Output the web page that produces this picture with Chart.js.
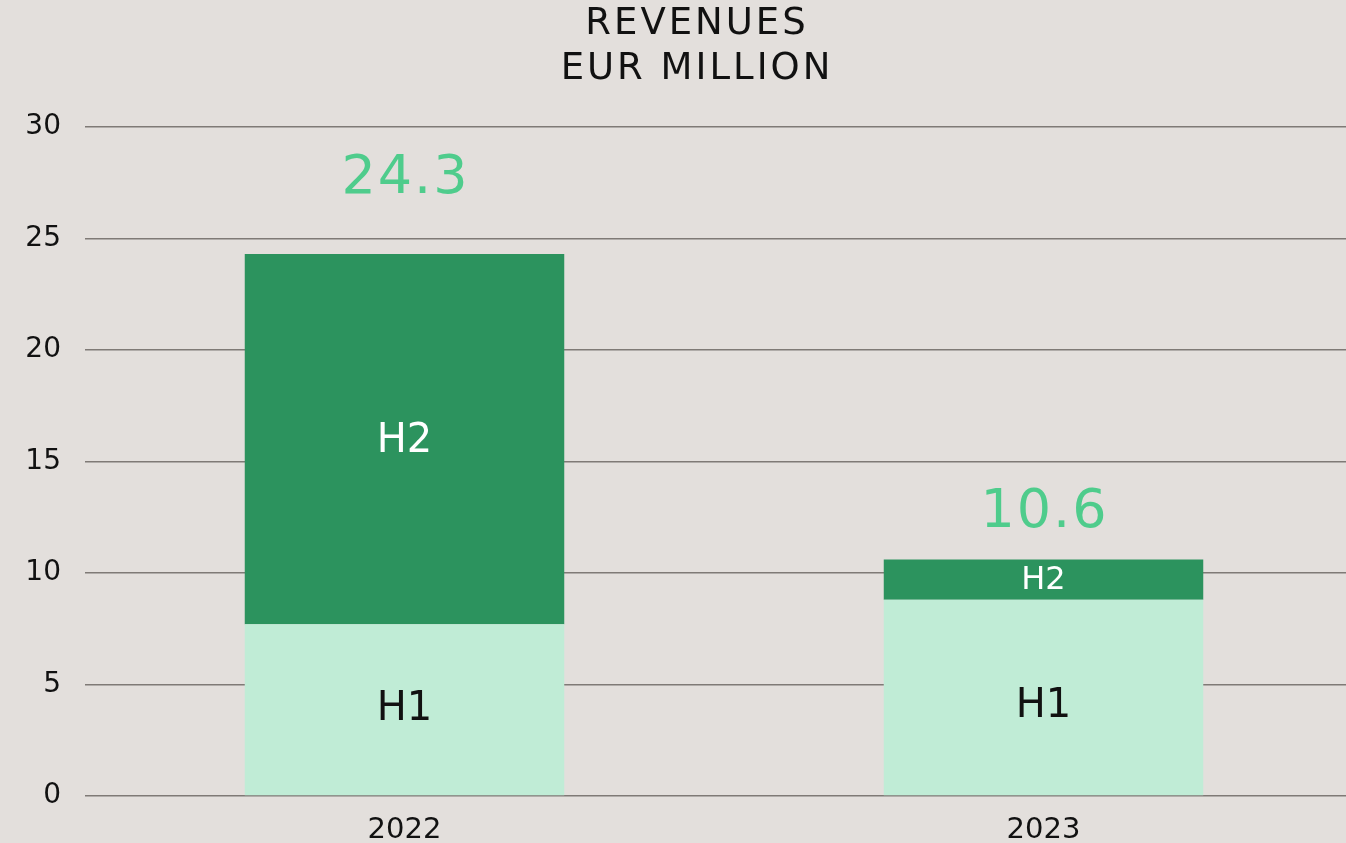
<!DOCTYPE html>
<html>
<head>
<meta charset="utf-8">
<script src="https://cdn.jsdelivr.net/npm/chart.js@4"></script>
<style>
  html, body { margin: 0; padding: 0; background: #e3dfdc; overflow: hidden; }
  #wrap { width: 1363px; height: 843px; }
</style>
</head>
<body>
<div id="wrap"><canvas id="c" width="1363" height="843"></canvas></div>
<script>
const categories = ['2022', '2023'];
const h1Values = [7.7, 8.8];
const h2Values = [16.6, 1.8];
const totals = [24.3, 10.6];
const seriesNames = ['H1', 'H2'];
const yTicks = [0, 5, 10, 15, 20, 25, 30];
const titleLines = ['REVENUES', 'EUR MILLION'];

const FONT = "'DejaVu Sans', sans-serif";

const labelPlugin = {
  id: 'barLabels',
  afterDatasetsDraw(chart, args, opts) {
    const ctx = chart.ctx;
    ctx.save();
    ctx.textAlign = 'center';
    ctx.textBaseline = 'middle';
    // title
    ctx.font = 'normal 37px ' + FONT;
    ctx.fillStyle = '#111111';
    if ('letterSpacing' in ctx) ctx.letterSpacing = '3px';
    titleLines.forEach((t, i) => ctx.fillText(t, opts.titleX, opts.titleY[i]));
    if ('letterSpacing' in ctx) ctx.letterSpacing = '0px';
    chart.data.datasets.forEach((ds, di) => {
      const meta = chart.getDatasetMeta(di);
      meta.data.forEach((bar, i) => {
        const top = Math.min(bar.y, bar.base), bot = Math.max(bar.y, bar.base);
        const size = opts.sizes[di][i];
        ctx.font = 'normal ' + size + 'px ' + FONT;
        ctx.fillStyle = opts.colors[di];
        ctx.fillText(seriesNames[di], bar.x, (top + bot) / 2 + opts.innerShift[di][i]);
      });
    });
    const lastMeta = chart.getDatasetMeta(chart.data.datasets.length - 1);
    if ('letterSpacing' in ctx) ctx.letterSpacing = '2px';
    lastMeta.data.forEach((bar, i) => {
      ctx.font = 'normal 54px ' + FONT;
      ctx.fillStyle = '#4fcc8c';
      ctx.fillText(totals[i].toFixed(1), bar.x + 1, bar.y - opts.totalOffsets[i]);
    });
    ctx.restore();
  }
};

new Chart(document.getElementById('c'), {
  type: 'bar',
  data: {
    labels: categories,
    datasets: [
      { label: seriesNames[0], data: h1Values, backgroundColor: '#c0ecd6', barPercentage: 0.5, categoryPercentage: 1 },
      { label: seriesNames[1], data: h2Values, backgroundColor: '#2c935e', barPercentage: 0.5, categoryPercentage: 1 }
    ]
  },
  options: {
    responsive: false,
    animation: false,
    layout: { padding: { top: 127, left: 0, right: 0, bottom: 0 } },
    plugins: {
      legend: { display: false },
      tooltip: { enabled: false },
      title: { display: false },
      barLabels: {
        titleX: 697,
        titleY: [24, 69],
        sizes: [[40, 40], [40, 32]],
        colors: ['#111111', '#ffffff'],
        innerShift: [[0, 9], [2, 1]],
        totalOffsets: [75, 47]
      }
    },
    scales: {
      x: {
        stacked: true,
        grid: { display: false },
        border: { display: false },
        ticks: { color: '#111111', font: { family: FONT, size: 29 }, padding: 9 },
        afterFit(s) { s.height = 47; }
      },
      y: {
        stacked: true,
        min: 0, max: 30,
        afterBuildTicks(s) { s.ticks = yTicks.map(v => ({ value: v })); },
        grid: { color: '#7f7a76', lineWidth: 1.5, drawTicks: false },
        border: { display: false },
        ticks: { color: '#111111', font: { family: FONT, size: 28 }, padding: 24 },
        afterFit(s) { s.width = 85; }
      }
    }
  },
  plugins: [labelPlugin]
});
</script>
</body>
</html>
